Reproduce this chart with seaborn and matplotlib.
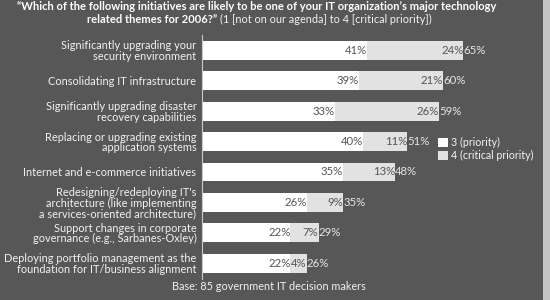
import matplotlib
matplotlib.use("Agg")
import matplotlib.pyplot as plt
from matplotlib.patches import Patch
import seaborn as sns
import pandas as pd

categories = [
    "Significantly upgrading your\nsecurity environment",
    "Consolidating IT infrastructure",
    "Significantly upgrading disaster\nrecovery capabilities",
    "Replacing or upgrading existing\napplication systems",
    "Internet and e-commerce initiatives",
    "Redesigning/redeploying IT's\narchitecture (like implementing\na services-oriented architecture)",
    "Support changes in corporate\ngovernance (e.g., Sarbanes-Oxley)",
    "Deploying portfolio management as the\nfoundation for IT/business alignment",
]
priority3 = [41, 39, 33, 40, 35, 26, 22, 22]
priority4 = [24, 21, 26, 11, 13, 9, 7, 4]
totals = [65, 60, 59, 51, 48, 35, 29, 26]
series_names = ["3 (priority)", "4 (critical priority)"]

BG = "#575757"
C3 = "#ffffff"
C4 = "#e2e2e2"
FONT = "Lato"
FS = 7.9
sns.set_theme(style="white")
plt.rcParams["font.family"] = [FONT, "DejaVu Sans"]

df = pd.DataFrame({"cat": categories, "p3": priority3, "p4": priority4, "tot": totals})

fig = plt.figure(figsize=(5.5, 3.0), dpi=100)
fig.patch.set_facecolor(BG)
ax = fig.add_axes([202/550, 1-278.5/300, 341/550, 243.5/300])
ax.set_facecolor(BG)

sns.barplot(data=df, y="cat", x="tot", orient="h", color=C4, width=0.62,
            saturation=1, ax=ax, edgecolor="none")
sns.barplot(data=df, y="cat", x="p3", orient="h", color=C3, width=0.62,
            saturation=1, ax=ax, edgecolor="none")
if ax.get_legend() is not None:
    ax.get_legend().remove()

ax.set_xlim(0, 341/4.02)
ax.set_ylim(7.5, -0.5)
ax.set_xlabel("")
ax.set_ylabel("")
ax.set_xticks([])
ax.tick_params(axis="y", length=0, pad=4, labelsize=FS, labelcolor="#f2f2f2")
for lab in ax.get_yticklabels():
    lab.set_horizontalalignment("right")
    lab.set_linespacing(0.95)
for s in ["top", "right", "bottom"]:
    ax.spines[s].set_visible(False)
ax.spines["left"].set_color("#c8c8c8")
ax.spines["left"].set_linewidth(0.8)

for i, (a, b, t) in enumerate(zip(priority3, priority4, totals)):
    ax.text(a, i, f"{a}%", ha="right", va="center", fontsize=8.2, color="#555555")
    ax.text(t, i, f"{b}%", ha="right", va="center", fontsize=8.2, color="#555555")
    ax.text(t + 0.1, i, f"{t}%", ha="left", va="center", fontsize=8.2, color="#e6e6e6")

# legend
handles = [Patch(facecolor=C3, edgecolor="none"), Patch(facecolor=C4, edgecolor="none")]
fig.legend(handles, series_names,
           loc="upper left", bbox_to_anchor=(438/550, 1-137/300), frameon=False,
           fontsize=7.7, labelcolor="#f2f2f2", handlelength=0.95, handleheight=1.0,
           handletextpad=0.3, labelspacing=0.2, borderaxespad=0, borderpad=0)

# right border strip
fig.patches.append(plt.Rectangle((543/550, 0), 7/550, 1, transform=fig.transFigure,
                                 facecolor="#c4c4c4", edgecolor="none"))

# title
fig.text(257/550, 1-6.5/300, "\u201cWhich of the following initiatives are likely to be one of your IT organization\u2019s major technology",
         ha="center", va="center", fontsize=8.0, fontweight="bold", color="#ffffff")
fig.text(217/550, 1-19.5/300, "related themes for 2006?\u201d", ha="right", va="center",
         fontsize=8.0, fontweight="bold", color="#ffffff")
fig.text(220/550, 1-19.5/300, "(1 [not on our agenda] to 4 [critical priority])", ha="left", va="center",
         fontsize=7.8, color="#f2f2f2")

fig.text(269/550, 1-287/300, "Base: 85 government IT decision makers", ha="center", va="center",
         fontsize=7.8, color="#f2f2f2")

fig.savefig("out.png", dpi=100, facecolor=BG)
